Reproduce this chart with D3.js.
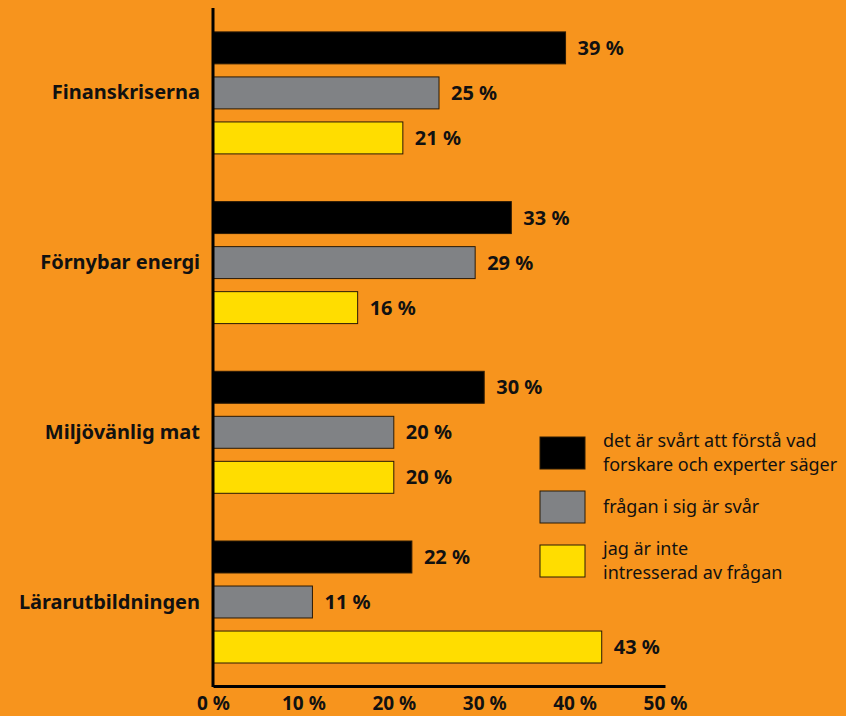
<!DOCTYPE html>
<html>
<head>
<meta charset="utf-8">
<script src="https://cdn.jsdelivr.net/npm/d3@7"></script>
<style>
  html, body { margin: 0; padding: 0; background: #F7941D; }
  svg { display: block; font-family: "Noto Sans", sans-serif; }
  .cat, .val, .tick text { font-weight: bold; fill: #111; }
  .legend text { fill: #111; }
</style>
</head>
<body>
<svg id="chart" width="846" height="716"></svg>
<script>
// Chart data
const categories = ['Finanskriserna', 'Förnybar energi', 'Miljövänlig mat', 'Lärarutbildningen'];
const seriesNames = [
  'det är svårt att förstå vad|forskare och experter säger',
  'frågan i sig är svår',
  'jag är inte|intresserad av frågan',
];
const hardToUnderstand = [39, 33, 30, 22];
const questionHard = [25, 29, 20, 11];
const notInterested = [21, 16, 20, 43];
const xTicks = [0, 10, 20, 30, 40, 50];

const colors = ['#000000', '#808285', '#FFDD00'];
const seriesValues = [hardToUnderstand, questionHard, notInterested];

const svg = d3.select('#chart');

// Scales
const xScale = d3.scaleLinear().domain([0, 50]).range([213, 665]);
const yGroup = d3.scaleBand().domain(categories).range([7.6, 686.4]);
const ySeries = d3.scaleBand().domain(d3.range(3)).range([24.3, 146.3]).paddingInner(0.29);

// Bars
const groups = svg.selectAll('g.group')
  .data(categories)
  .join('g')
  .attr('class', 'group')
  .attr('transform', (d) => `translate(0,${yGroup(d)})`);

const bars = groups.selectAll('g.bar')
  .data((cat, ci) => seriesValues.map((vals, si) => ({ si, value: vals[ci] })))
  .join('g')
  .attr('class', 'bar');

bars.append('rect')
  .attr('x', xScale(0))
  .attr('y', ({ si }) => ySeries(si))
  .attr('width', ({ value }) => xScale(value) - xScale(0))
  .attr('height', ySeries.bandwidth())
  .attr('fill', ({ si }) => colors[si])
  .attr('stroke', '#2b1a05')
  .attr('stroke-width', 1);

bars.append('text')
  .attr('class', 'val')
  .attr('x', ({ value }) => xScale(value) + 12)
  .attr('y', ({ si }) => ySeries(si) + ySeries.bandwidth() / 2)
  .attr('dy', '0.35em')
  .attr('font-size', 20)
  .text(({ value }) => `${value} %`);

// Category labels
groups.append('text')
  .attr('class', 'cat')
  .attr('x', 200)
  .attr('y', yGroup.bandwidth() / 2)
  .attr('dy', '0.35em')
  .attr('text-anchor', 'end')
  .attr('font-size', 20)
  .text((d) => d);

// Axes lines
svg.append('line')
  .attr('x1', xScale(0)).attr('x2', xScale(0))
  .attr('y1', 8).attr('y2', 687)
  .attr('stroke', '#000').attr('stroke-width', 3);

const xAxis = d3.axisBottom(xScale)
  .tickValues(xTicks)
  .tickSize(0)
  .tickPadding(11)
  .tickFormat((d) => `${d} %`);

const xAxisG = svg.append('g')
  .attr('transform', 'translate(0,686)')
  .call(xAxis);
xAxisG.select('.domain').attr('stroke', '#000').attr('stroke-width', 3);
xAxisG.selectAll('text').attr('font-size', 19).attr('font-family', '"Noto Sans", sans-serif');

// Legend
const legend = svg.append('g').attr('class', 'legend');
const legendY = [437, 491, 545];
seriesNames.forEach((name, i) => {
  const g = legend.append('g').attr('transform', `translate(540,${legendY[i]})`);
  g.append('rect')
    .attr('width', 45).attr('height', 32)
    .attr('fill', colors[i])
    .attr('stroke', '#2b1a05').attr('stroke-width', 1);
  const lines = name.split('|');
  const t = g.append('text').attr('x', 63).attr('font-size', 18);
  lines.forEach((ln, li) => {
    t.append('tspan')
      .attr('x', 63)
      .attr('y', lines.length === 1 ? 16 : 4 + li * 24)
      .attr('dy', '0.35em')
      .text(ln);
  });
});
</script>
</body>
</html>
